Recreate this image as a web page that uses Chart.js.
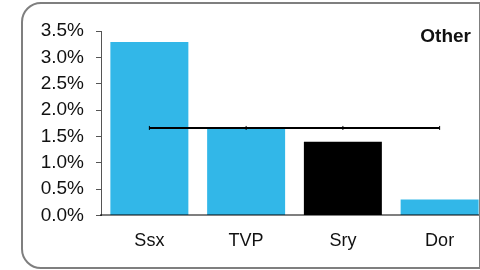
<!DOCTYPE html>
<html>
<head>
<meta charset="utf-8">
<script src="https://cdn.jsdelivr.net/npm/chart.js"></script>
<style>
  html, body { margin: 0; padding: 0; background: #fff; overflow: hidden; }
  body { width: 480px; height: 270px; position: relative; }
  #wrap { position: absolute; left: 0; top: 0; width: 493px; height: 270px; }
  #frame {
    position: absolute; left: 21px; top: 2px; width: 456px; height: 263px;
    border: 2px solid #7f7f7f; border-radius: 20px 0 0 20px; pointer-events: none;
  }
  #title {
    position: absolute; right: 9px; top: 25px;
    font: bold 19px "Liberation Sans", Arial, sans-serif; color: #111;
  }
</style>
</head>
<body>
<div id="wrap"><canvas id="chart"></canvas></div>
<div id="frame"></div>
<div id="title">Other</div>
<script>
  // Données
  const categories = ['Ssx', 'TVP', 'Sry', 'Dor'];
  const shareValues = [3.29, 1.64, 1.40, 0.30];
  const averageValues = [1.66, 1.66, 1.66, 1.66];
  const yTicks = [0, 0.5, 1.0, 1.5, 2.0, 2.5, 3.0, 3.5];

  const barColors = ['#32b7e8', '#32b7e8', '#000000', '#32b7e8'];

  document.addEventListener('DOMContentLoaded', () => {
    const ctx = document.getElementById('chart').getContext('2d');
    new Chart(ctx, {
      data: {
        labels: categories,
        datasets: [
          {
            type: 'line',
            data: averageValues,
            borderColor: '#000',
            borderWidth: 2,
            pointStyle: 'line',
            rotation: 90,
            pointRadius: 2,
            pointBorderWidth: 1,
            pointBorderColor: '#000',
            order: 0
          },
          {
            type: 'bar',
            data: shareValues,
            backgroundColor: barColors,
            categoryPercentage: 1,
            barPercentage: 0.806,
            order: 1
          }
        ]
      },
      options: {
        responsive: true,
        maintainAspectRatio: false,
        animation: false,
        layout: { padding: { top: 31, bottom: 3, left: 0, right: 0 } },
        plugins: { legend: { display: false }, tooltip: { enabled: false } },
        scales: {
          x: {
            grid: { display: true, drawOnChartArea: false, drawTicks: false, z: 1 },
            border: { color: 'rgba(0,0,0,0.5)', width: 2, z: 1 },
            ticks: {
              padding: 15,
              color: '#111',
              font: { family: '"Liberation Sans", Arial, sans-serif', size: 18 }
            }
          },
          y: {
            min: 0,
            max: 3.5,
            afterBuildTicks: (scale) => { scale.ticks = yTicks.map(v => ({ value: v })); },
            afterFit: (scale) => { scale.width = 101; },
            grid: { drawOnChartArea: false, drawTicks: true, tickLength: 5, color: '#555' },
            border: { color: '#555', width: 1 },
            ticks: {
              padding: 12,
              color: '#111',
              font: { family: '"Liberation Sans", Arial, sans-serif', size: 19 },
              callback: (v) => v.toFixed(1) + '%'
            }
          }
        }
      }
    });
  });
</script>
</body>
</html>
